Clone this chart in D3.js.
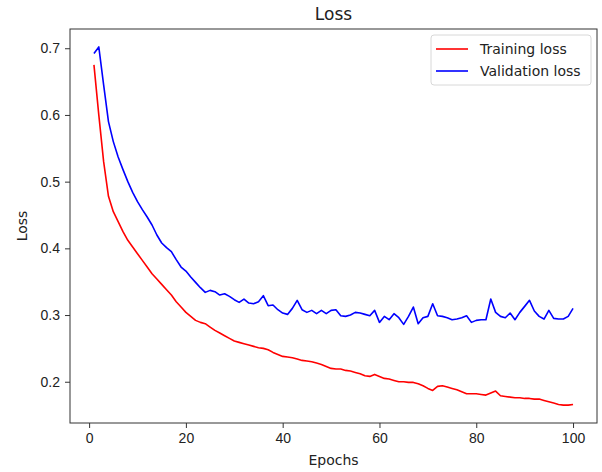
<!DOCTYPE html>
<html>
<head>
<meta charset="utf-8">
<script src="https://cdn.jsdelivr.net/npm/d3@7"></script>
<style>
  body { margin: 0; background: #fff; }
  svg { display: block; font-family: "DejaVu Sans", sans-serif; }
</style>
</head>
<body>
<svg id="chart" width="602" height="472"></svg>
<script>
// values, one per epoch (1..100)
const trainLoss = [
  0.675, 0.600, 0.530, 0.478, 0.455, 0.440, 0.425, 0.412, 0.402, 0.392,
  0.382, 0.372, 0.362, 0.354, 0.346, 0.338, 0.330, 0.320, 0.312, 0.304,
  0.298, 0.292, 0.289, 0.287, 0.282, 0.277, 0.273, 0.269, 0.265, 0.261,
  0.259, 0.257, 0.255, 0.253, 0.251, 0.250, 0.248, 0.244, 0.241, 0.238,
  0.237, 0.236, 0.234, 0.232, 0.231, 0.230, 0.228, 0.226, 0.223, 0.220,
  0.219, 0.219, 0.217, 0.216, 0.214, 0.212, 0.209, 0.208, 0.211, 0.208,
  0.205, 0.204, 0.202, 0.200, 0.200, 0.199, 0.199, 0.197, 0.194, 0.190,
  0.187, 0.193, 0.194, 0.192, 0.190, 0.188, 0.185, 0.182, 0.182, 0.182,
  0.181, 0.180, 0.183, 0.186, 0.179, 0.178, 0.177, 0.176, 0.176, 0.175,
  0.175, 0.174, 0.174, 0.172, 0.170, 0.168, 0.166, 0.165, 0.165, 0.166
];

const valLoss = [
  0.692, 0.702, 0.645, 0.590, 0.560, 0.537, 0.518, 0.500, 0.484, 0.470,
  0.458, 0.447, 0.435, 0.420, 0.408, 0.401, 0.395, 0.383, 0.372, 0.366,
  0.357, 0.349, 0.341, 0.334, 0.337, 0.335, 0.330, 0.332, 0.328, 0.323,
  0.319, 0.324, 0.318, 0.317, 0.320, 0.329, 0.314, 0.315, 0.308, 0.303,
  0.301, 0.310, 0.322, 0.308, 0.304, 0.307, 0.302, 0.307, 0.302, 0.307,
  0.308, 0.299, 0.298, 0.300, 0.304, 0.303, 0.301, 0.299, 0.307, 0.289,
  0.298, 0.293, 0.302, 0.296, 0.286, 0.298, 0.312, 0.287, 0.296, 0.298,
  0.317, 0.299, 0.298, 0.296, 0.293, 0.294, 0.296, 0.299, 0.289, 0.292,
  0.293, 0.293, 0.324, 0.304, 0.298, 0.296, 0.303, 0.293, 0.304, 0.313,
  0.322, 0.306, 0.298, 0.294, 0.307, 0.295, 0.294, 0.294, 0.298, 0.310
];

const epochs = d3.range(1, trainLoss.length + 1);
const xTicks = [0, 20, 40, 60, 80, 100];
const yTicks = [0.2, 0.3, 0.4, 0.5, 0.6, 0.7];

const series = [
  { name: "Training loss", values: trainLoss, color: "red" },
  { name: "Validation loss", values: valLoss, color: "blue" }
];

const svg = d3.select("#chart");
const margin = { top: 29, right: 5, bottom: 49, left: 70 };
const width = 602 - margin.left - margin.right;
const height = 472 - margin.top - margin.bottom;

const g = svg.append("g").attr("transform", `translate(${margin.left},${margin.top})`);

// matplotlib-style 5% padding around the data
const xPad = (d3.max(epochs) - d3.min(epochs)) * 0.05;
const allVals = trainLoss.concat(valLoss);
const yPad = (d3.max(allVals) - d3.min(allVals)) * 0.05;

const x = d3.scaleLinear()
  .domain([d3.min(epochs) - xPad, d3.max(epochs) + xPad])
  .range([0, width]);
const y = d3.scaleLinear()
  .domain([d3.min(allVals) - yPad, d3.max(allVals) + yPad])
  .range([height, 0]);

const xAxis = g.append("g")
  .attr("transform", `translate(0,${height})`)
  .call(d3.axisBottom(x).tickValues(xTicks).tickFormat(d3.format("d")).tickSize(5).tickPadding(5));
const yAxis = g.append("g")
  .call(d3.axisLeft(y).tickValues(yTicks).tickFormat(d3.format(".1f")).tickSize(5).tickPadding(5));

[xAxis, yAxis].forEach((a) => {
  a.select(".domain").remove();
  a.selectAll("line").attr("stroke", "#333");
  a.selectAll("text").attr("fill", "#222").style("font-size", "14px");
});

const line = d3.line()
  .x((d, i) => x(epochs[i]))
  .y((d) => y(d));

g.selectAll("path.series")
  .data(series)
  .join("path")
  .attr("class", "series")
  .attr("fill", "none")
  .attr("stroke", (d) => d.color)
  .attr("stroke-width", 1.6)
  .attr("stroke-linejoin", "round")
  .attr("d", (d) => line(d.values));

// frame
g.append("rect")
  .attr("width", width)
  .attr("height", height)
  .attr("fill", "none")
  .attr("stroke", "#333")
  .attr("stroke-width", 1);

// title and axis labels
svg.append("text")
  .attr("x", margin.left + width / 2)
  .attr("y", 20)
  .attr("text-anchor", "middle")
  .style("font-size", "17px")
  .attr("fill", "#222")
  .text("Loss");

svg.append("text")
  .attr("x", margin.left + width / 2)
  .attr("y", 465)
  .attr("text-anchor", "middle")
  .style("font-size", "14px")
  .attr("fill", "#222")
  .text("Epochs");

svg.append("text")
  .attr("transform", `translate(27,${margin.top + height / 2}) rotate(-90)`)
  .attr("text-anchor", "middle")
  .style("font-size", "14px")
  .attr("fill", "#222")
  .text("Loss");

// legend
const legend = g.append("g").attr("transform", `translate(${width - 166},6)`);
legend.append("rect")
  .attr("width", 160)
  .attr("height", 50)
  .attr("rx", 3)
  .attr("fill", "#fff")
  .attr("fill-opacity", 0.8)
  .attr("stroke", "#d8d8d8");

const items = legend.selectAll("g.item")
  .data(series)
  .join("g")
  .attr("class", "item")
  .attr("transform", (d, i) => `translate(0,${14 + i * 22})`);
items.append("line")
  .attr("x1", 5).attr("x2", 37)
  .attr("stroke", (d) => d.color)
  .attr("stroke-width", 1.6);
items.append("text")
  .attr("x", 49)
  .attr("dy", "0.35em")
  .style("font-size", "14px")
  .attr("fill", "#222")
  .text((d) => d.name);
</script>
</body>
</html>
